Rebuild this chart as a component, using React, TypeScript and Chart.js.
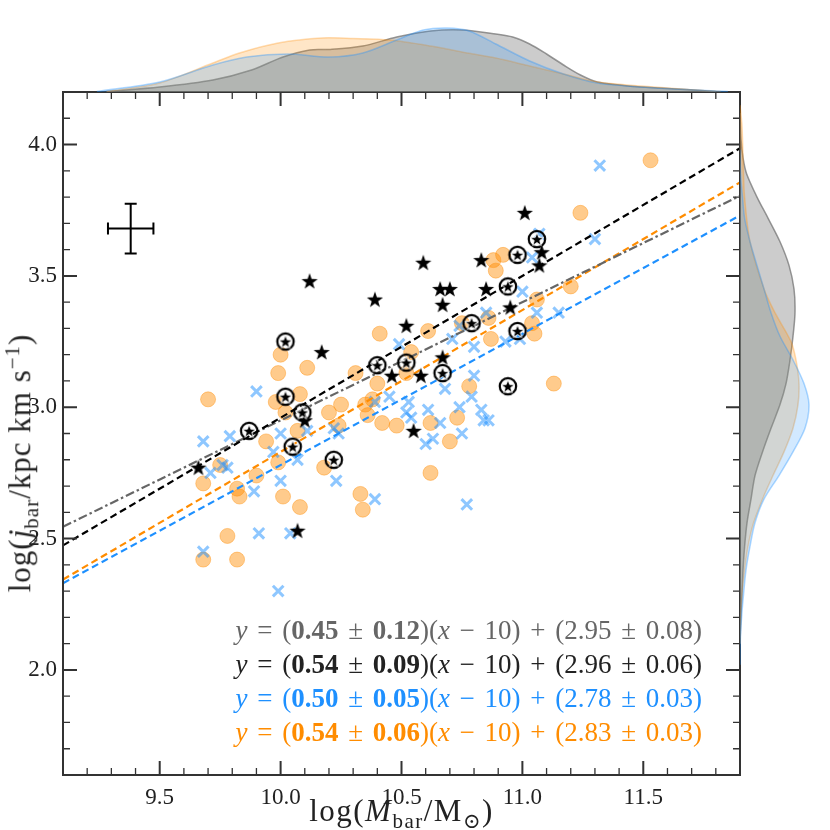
import { useEffect, useRef } from "react";
import { Chart, registerables } from "chart.js";

Chart.register(...registerables);

const X_MIN = 9.1;
const X_MAX = 11.9;
const Y_MIN = 1.6;
const Y_MAX = 4.2;
const xTickLabels = [9.5, 10.0, 10.5, 11.0, 11.5];
const yTickLabels = [2.0, 2.5, 3.0, 3.5, 4.0];

// orange circles
const orangeX = [11.53, 11.24, 10.92, 10.88, 10.89, 11.2, 11.06, 10.86, 10.75, 10.61, 11.04, 11.05, 10.87, 10.41, 10.0, 9.99, 10.11, 10.31, 10.52, 10.4, 9.7, 10.08, 9.98, 10.02, 10.2, 10.25, 10.35, 10.38, 10.36, 10.42, 10.48, 10.07, 10.24, 9.94, 10.18, 9.99, 9.75, 9.9, 9.68, 9.82, 9.83, 10.01, 10.08, 10.33, 10.34, 9.78, 9.68, 9.82, 10.78, 11.13, 10.73, 10.62, 10.7, 10.62, 10.54];
const orangeY = [3.94, 3.74, 3.58, 3.56, 3.52, 3.46, 3.41, 3.34, 3.32, 3.29, 3.32, 3.28, 3.26, 3.28, 3.2, 3.13, 3.15, 3.13, 3.13, 3.09, 3.03, 3.05, 3.02, 2.98, 2.98, 3.01, 3.01, 3.03, 2.97, 2.94, 2.93, 2.91, 2.93, 2.87, 2.77, 2.79, 2.78, 2.74, 2.71, 2.69, 2.66, 2.66, 2.62, 2.67, 2.61, 2.51, 2.42, 2.42, 3.08, 3.09, 2.96, 2.94, 2.87, 2.75, 3.21];

// blue crosses
const blueX = [11.32, 11.07, 11.3, 11.04, 11.0, 11.06, 11.15, 10.85, 10.71, 10.74, 10.93, 10.99, 10.8, 10.49, 9.9, 9.68, 9.79, 10.0, 10.11, 10.22, 10.24, 9.97, 10.07, 9.71, 9.76, 9.78, 10.0, 10.23, 9.89, 10.39, 9.91, 10.04, 9.68, 9.99, 10.8, 10.68, 10.79, 10.53, 10.52, 10.54, 10.61, 10.74, 10.83, 10.84, 10.86, 10.66, 10.63, 10.6, 10.75, 10.77, 10.39, 10.45];
const blueY = [3.92, 3.66, 3.64, 3.57, 3.44, 3.36, 3.36, 3.36, 3.26, 3.31, 3.25, 3.26, 3.23, 3.24, 3.06, 2.87, 2.89, 2.9, 2.91, 2.92, 2.9, 2.83, 2.8, 2.75, 2.78, 2.77, 2.72, 2.72, 2.68, 2.65, 2.52, 2.52, 2.45, 2.3, 3.12, 3.07, 3.04, 3.02, 2.98, 2.96, 2.99, 3.0, 2.99, 2.95, 2.95, 2.94, 2.88, 2.86, 2.9, 2.63, 3.02, 3.04];

// black stars
const starX = [10.12, 10.39, 10.17, 10.52, 10.46, 10.1, 9.66, 11.01, 11.08, 10.83, 11.07, 10.59, 10.66, 10.7, 10.67, 10.85, 10.95, 10.67, 10.58, 10.55, 10.07];
const starY = [3.48, 3.41, 3.21, 3.31, 3.12, 2.95, 2.77, 3.74, 3.59, 3.56, 3.54, 3.55, 3.45, 3.45, 3.39, 3.45, 3.38, 3.19, 3.12, 2.91, 2.53];

// circled stars
const ringX = [10.02, 10.4, 10.52, 10.02, 10.09, 9.87, 10.05, 10.22, 11.06, 10.98, 10.94, 10.79, 10.98, 10.67, 10.94];
const ringY = [3.25, 3.16, 3.17, 3.04, 2.98, 2.91, 2.85, 2.8, 3.64, 3.58, 3.46, 3.32, 3.29, 3.13, 3.08];

// fits: grey (all), black (stars), blue, orange
const fitColors = ["#666666", "#222222", "#1e90ff", "#ff8c00"];
const fitSlope = [0.45, 0.54, 0.5, 0.54];
const fitSlopeErr = [0.12, 0.09, 0.05, 0.06];
const fitIntercept = [2.95, 2.96, 2.78, 2.83];
const fitInterceptErr = [0.08, 0.06, 0.03, 0.03];

// typical error bar
const errX = 9.38;
const errY = 3.68;
const errDX = 0.094;
const errDY = 0.095;

// top marginal densities
const topGreyX = [9.28, 9.5, 9.72, 9.88, 10.01, 10.12, 10.2, 10.34, 10.48, 10.62, 10.75, 10.89, 10.96, 11.03, 11.1, 11.17, 11.24, 11.31, 11.4, 11.49, 11.71, 11.8];
const topGreyD = [0.5, 5, 12, 22, 35, 42, 42.5, 46, 55, 61, 62, 58, 55, 48, 38, 27, 17, 10, 7, 5, 2, 0.5];
const topBlueX = [9.24, 9.5, 9.72, 9.86, 10.03, 10.2, 10.34, 10.48, 10.59, 10.69, 10.78, 10.89, 11.03, 11.17, 11.31, 11.49, 11.71, 11.85];
const topBlueD = [0.5, 10, 27, 35, 38, 35, 39, 52, 62, 64, 61, 48, 31, 18, 9, 5, 2, 0.5];
const topOrangeX = [9.28, 9.5, 9.72, 9.83, 9.99, 10.17, 10.3, 10.45, 10.62, 10.75, 10.89, 11.03, 11.17, 11.31, 11.49, 11.71, 11.82];
const topOrangeD = [0.5, 9, 29, 39, 49, 54, 53.5, 52, 46, 40, 34, 26, 18, 10, 6, 2, 0.5];

// right marginal densities
const sideGreyY = [4.12, 4.02, 3.95, 3.89, 3.8, 3.72, 3.63, 3.54, 3.45, 3.36, 3.27, 3.18, 3.09, 3.01, 2.92, 2.83, 2.74, 2.65, 2.56, 2.47, 2.38, 2.29, 2.21, 2.1];
const sideGreyD = [0, 1, 3, 6.5, 17, 28, 40, 49, 54, 55, 53, 50, 46, 40, 31, 22.5, 15, 11, 7, 4.6, 3, 2, 1, 0];
const sideBlueY = [3.98, 3.89, 3.8, 3.72, 3.63, 3.54, 3.45, 3.36, 3.27, 3.18, 3.09, 3.01, 2.92, 2.83, 2.74, 2.65, 2.56, 2.47, 2.38, 2.29, 2.21, 2.12, 2.02];
const sideBlueD = [0, 0.5, 2.5, 4.6, 10, 17, 24, 31, 40, 53, 64, 69, 65, 53, 39, 24, 15, 10, 6, 3.6, 1.8, 0.4, 0];
const sideOrangeY = [4.15, 4.07, 3.89, 3.8, 3.63, 3.45, 3.36, 3.25, 3.18, 3.09, 3.01, 2.92, 2.83, 2.74, 2.65, 2.56, 2.47, 2.38, 2.29, 2.21, 2.1];
const sideOrangeD = [0, 2, 3.5, 4.6, 10, 24, 35, 51, 56, 59, 58, 53, 44, 33, 22.5, 13.6, 8, 4.6, 2, 0.7, 0];

const FONT = "'Liberation Serif', 'DejaVu Serif', serif";

const pts = (xs: number[], ys: number[]) => xs.map((x, i) => ({ x, y: ys[i] }));

function starPath(ctx: CanvasRenderingContext2D, cx: number, cy: number, R: number, r: number) {
  ctx.beginPath();
  for (let i = 0; i < 10; i++) {
    const ang = -Math.PI / 2 + (i * Math.PI) / 5;
    const rad = i % 2 === 0 ? R : r;
    const px = cx + rad * Math.cos(ang);
    const py = cy + rad * Math.sin(ang);
    if (i === 0) ctx.moveTo(px, py);
    else ctx.lineTo(px, py);
  }
  ctx.closePath();
}

function makeStar(): HTMLCanvasElement {
  const c = document.createElement("canvas");
  c.width = 18;
  c.height = 18;
  const ctx = c.getContext("2d")!;
  starPath(ctx, 9, 9.6, 8.5, 3.4);
  ctx.fillStyle = "#000";
  ctx.fill();
  return c;
}

function makeRingStar(): HTMLCanvasElement {
  const c = document.createElement("canvas");
  c.width = 22;
  c.height = 22;
  const ctx = c.getContext("2d")!;
  ctx.beginPath();
  ctx.arc(11, 11, 8.2, 0, Math.PI * 2);
  ctx.lineWidth = 2.2;
  ctx.strokeStyle = "#000";
  ctx.stroke();
  starPath(ctx, 11, 11.6, 7.2, 2.9);
  ctx.fillStyle = "#000";
  ctx.fill();
  ctx.lineWidth = 0.9;
  ctx.strokeStyle = "#fff";
  ctx.stroke();
  return c;
}

const frameTicks = {
  id: "frameTicks",
  afterDatasetsDraw(chart: any) {
    const { ctx, chartArea: a, scales } = chart;
    const xs = scales.x;
    const ys = scales.y;
    ctx.save();
    ctx.strokeStyle = "#333";
    for (let i = 92; i <= 118; i++) {
      const px = xs.getPixelForValue(i / 10);
      const len = i % 5 === 0 ? 14 : 7;
      ctx.lineWidth = i % 5 === 0 ? 2 : 1.3;
      ctx.beginPath();
      ctx.moveTo(px, a.bottom);
      ctx.lineTo(px, a.bottom - len);
      ctx.moveTo(px, a.top);
      ctx.lineTo(px, a.top + len);
      ctx.stroke();
    }
    for (let i = 17; i <= 41; i++) {
      const py = ys.getPixelForValue(i / 10);
      const len = i % 5 === 0 ? 14 : 7;
      ctx.lineWidth = i % 5 === 0 ? 2 : 1.3;
      ctx.beginPath();
      ctx.moveTo(a.left, py);
      ctx.lineTo(a.left + len, py);
      ctx.moveTo(a.right, py);
      ctx.lineTo(a.right - len, py);
      ctx.stroke();
    }
    ctx.lineWidth = 2;
    ctx.strokeRect(a.left, a.top, a.right - a.left, a.bottom - a.top);

    // error bar
    const cx = xs.getPixelForValue(errX);
    const cy = ys.getPixelForValue(errY);
    const x0 = xs.getPixelForValue(errX - errDX);
    const x1 = xs.getPixelForValue(errX + errDX);
    const y0 = ys.getPixelForValue(errY - errDY);
    const y1 = ys.getPixelForValue(errY + errDY);
    ctx.strokeStyle = "#000";
    ctx.lineWidth = 2;
    ctx.beginPath();
    ctx.moveTo(x0, cy);
    ctx.lineTo(x1, cy);
    ctx.moveTo(cx, y0);
    ctx.lineTo(cx, y1);
    ctx.moveTo(x0, cy - 6);
    ctx.lineTo(x0, cy + 6);
    ctx.moveTo(x1, cy - 6);
    ctx.lineTo(x1, cy + 6);
    ctx.moveTo(cx - 6, y0);
    ctx.lineTo(cx + 6, y0);
    ctx.moveTo(cx - 6, y1);
    ctx.lineTo(cx + 6, y1);
    ctx.stroke();
    ctx.restore();
  },
};

const kdeStyle = (fill: string, line: string) => ({
  backgroundColor: fill,
  borderColor: line,
  borderWidth: 1.5,
  pointRadius: 0,
  fill: "origin",
  tension: 0.3,
});

const Op = ({ c }: { c: string }) => <span style={{ margin: "0 0.36em" }}>{c}</span>;

export default function App() {
  const mainRef = useRef<HTMLCanvasElement>(null);
  const topRef = useRef<HTMLCanvasElement>(null);
  const sideRef = useRef<HTMLCanvasElement>(null);

  useEffect(() => {
    if (!mainRef.current || !topRef.current || !sideRef.current) return;
    const star = makeStar();
    const ringStar = makeRingStar();

    const fitLine = (k: number, dash: number[], order: number) => ({
      type: "scatter" as const,
      data: [X_MIN, X_MAX].map((x) => ({ x, y: fitSlope[k] * (x - 10) + fitIntercept[k] })),
      showLine: true,
      borderColor: k === 1 ? "#000" : fitColors[k],
      borderWidth: 2.2,
      borderDash: dash,
      pointRadius: 0,
      order,
    });

    const main = new Chart(mainRef.current, {
      type: "scatter",
      data: {
        datasets: [
          { data: pts(ringX, ringY), pointStyle: ringStar, pointRadius: 9, order: 0 },
          { data: pts(starX, starY), pointStyle: star, pointRadius: 8, order: 1 },
          fitLine(1, [7, 4], 2),
          fitLine(0, [9, 3, 2.5, 3], 3),
          fitLine(2, [7, 4], 4),
          fitLine(3, [7, 4], 5),
          {
            data: pts(blueX, blueY),
            pointStyle: "crossRot",
            pointRadius: 7.5,
            borderWidth: 3,
            borderColor: "rgba(30,144,255,0.5)",
            order: 6,
          },
          {
            data: pts(orangeX, orangeY),
            pointStyle: "circle",
            pointRadius: 7.5,
            borderWidth: 1,
            backgroundColor: "rgba(255,140,0,0.45)",
            borderColor: "rgba(255,140,0,0.4)",
            order: 7,
          },
        ] as any,
      },
      options: {
        responsive: false,
        animation: false,
        events: [],
        layout: { padding: { left: 0, top: 92, right: 90, bottom: 0 } },
        plugins: { legend: { display: false }, tooltip: { enabled: false } },
        scales: {
          x: {
            type: "linear",
            min: X_MIN,
            max: X_MAX,
            afterBuildTicks: (s: any) => {
              s.ticks = xTickLabels.map((value) => ({ value }));
            },
            afterFit: (s: any) => {
              s.height = 55;
            },
            grid: { display: false, drawTicks: false },
            border: { display: false },
            ticks: {
              padding: 9,
              autoSkip: false,
              maxRotation: 0,
              color: "#222",
              font: { family: FONT, size: 23 },
              callback: (v: any) => Number(v).toFixed(1),
            },
          },
          y: {
            type: "linear",
            min: Y_MIN,
            max: Y_MAX,
            afterBuildTicks: (s: any) => {
              s.ticks = yTickLabels.map((value) => ({ value }));
            },
            afterFit: (s: any) => {
              s.width = 63;
            },
            grid: { display: false, drawTicks: false },
            border: { display: false },
            ticks: {
              padding: 6,
              autoSkip: false,
              color: "#222",
              font: { family: FONT, size: 23 },
              callback: (v: any) => Number(v).toFixed(1),
            },
          },
        },
      },
      plugins: [frameTicks],
    });

    const top = new Chart(topRef.current, {
      type: "line",
      data: {
        datasets: [
          { data: pts(topBlueX, topBlueD), ...kdeStyle("rgba(30,144,255,0.2)", "rgba(30,144,255,0.35)") },
          { data: pts(topOrangeX, topOrangeD), ...kdeStyle("rgba(255,140,0,0.22)", "rgba(255,140,0,0.3)") },
          { data: pts(topGreyX, topGreyD), ...kdeStyle("rgba(128,128,128,0.4)", "rgba(110,110,110,0.7)") },
        ] as any,
      },
      options: {
        responsive: false,
        animation: false,
        events: [],
        layout: { padding: 0 },
        plugins: { legend: { display: false }, tooltip: { enabled: false } },
        scales: {
          x: { type: "linear", min: X_MIN, max: X_MAX, display: false },
          y: { type: "linear", min: 0, max: 92, display: false },
        },
      },
    });

    const side = new Chart(sideRef.current, {
      type: "line",
      data: {
        datasets: [
          { data: pts(sideBlueD, sideBlueY), ...kdeStyle("rgba(30,144,255,0.2)", "rgba(30,144,255,0.35)") },
          { data: pts(sideOrangeD, sideOrangeY), ...kdeStyle("rgba(255,140,0,0.22)", "rgba(255,140,0,0.3)") },
          { data: pts(sideGreyD, sideGreyY), ...kdeStyle("rgba(128,128,128,0.4)", "rgba(110,110,110,0.7)") },
        ] as any,
      },
      options: {
        indexAxis: "y",
        responsive: false,
        animation: false,
        events: [],
        layout: { padding: 0 },
        plugins: { legend: { display: false }, tooltip: { enabled: false } },
        scales: {
          x: { type: "linear", min: 0, max: 90, display: false },
          y: { type: "linear", min: Y_MIN, max: Y_MAX, display: false },
        },
      },
    });

    return () => {
      main.destroy();
      top.destroy();
      side.destroy();
    };
  }, []);

  const fmt = (v: number) => v.toFixed(2);

  return (
    <div style={{ position: "fixed", left: 0, top: 0, width: 830, height: 830, background: "#fff", fontFamily: FONT }}>
      <canvas ref={mainRef} width={830} height={830} style={{ position: "absolute", left: 0, top: 0 }} />
      <canvas ref={topRef} width={677} height={92} style={{ position: "absolute", left: 63, top: 0 }} />
      <canvas ref={sideRef} width={90} height={683} style={{ position: "absolute", left: 740, top: 92 }} />

      <div
        style={{
          position: "absolute",
          right: 128,
          top: 613,
          textAlign: "right",
          fontSize: 27,
          lineHeight: "34px",
          whiteSpace: "nowrap",
        }}
      >
        {fitSlope.map((s, k) => (
          <div key={k} style={{ color: fitColors[k] }}>
            <i>y</i>
            <Op c="=" />(<b>{fmt(s)}</b>
            <Op c="±" />
            <b>{fmt(fitSlopeErr[k])}</b>)(<i>x</i>
            <Op c="−" />
            10)
            <Op c="+" />({fmt(fitIntercept[k])}
            <Op c="±" />
            {fmt(fitInterceptErr[k])})
          </div>
        ))}
      </div>

      <div
        style={{
          position: "absolute",
          left: 63,
          width: 677,
          top: 793,
          textAlign: "center",
          fontSize: 31,
          letterSpacing: "1.5px",
          color: "#222",
          whiteSpace: "nowrap",
        }}
      >
        log(<i>M</i>
        <sub style={{ fontSize: 21 }}>bar</sub>/M<sub style={{ fontSize: 21 }}>⊙</sub>)
      </div>

      <div
        style={{
          position: "absolute",
          left: 22,
          top: 463,
          transform: "translate(-50%, -50%) rotate(-90deg)",
          fontSize: 31,
          letterSpacing: "1px",
          color: "#222",
          whiteSpace: "nowrap",
        }}
      >
        log(<i>j</i>
        <sub style={{ fontSize: 21 }}>bar</sub>/kpc km s<sup style={{ fontSize: 21 }}>−1</sup>)
      </div>
    </div>
  );
}
